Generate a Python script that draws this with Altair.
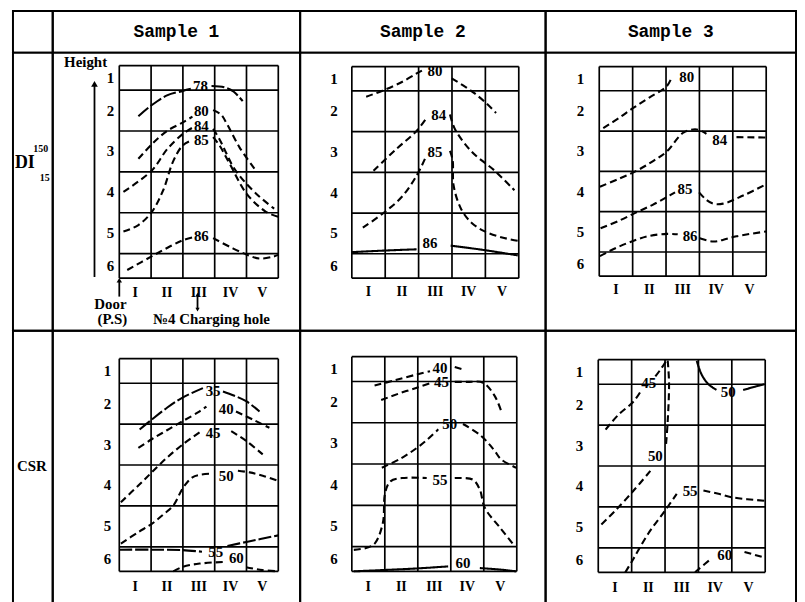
import altair as alt
import pandas as pd

# ---------------- layout of the table ----------------
COL_W = [40, 249, 247, 252]
ROW_H = [42, 280, 280]

SAMPLES = ["Sample 1", "Sample 2", "Sample 3"]
COLS = ["I", "II", "III", "IV", "V"]
ROWS = ["1", "2", "3", "4", "5", "6"]
ROW_BOUNDS = [0, 0.6, 1.6, 2.6, 3.6, 4.6, 5.2]
ROW_CENTERS = [0.3, 1.1, 2.1, 3.1, 4.1, 4.9]
NCOL = 5
YMAX = 5.2

# ---------------- contour data (x: column units, y: height units from top) -------------
# each curve: (label, style, label_x, label_y, [segment points...])
DI_S1 = [
    ("78", "long", 2.55, 0.50, [[(0.6, 1.24), (1.0, 0.98), (1.5, 0.73), (2.0, 0.62), (2.25, 0.57)],
                                [(2.9, 0.50), (3.3, 0.53), (3.6, 0.64), (3.88, 0.87)]]),
    ("80", "dash", 2.58, 1.12, [[(0.6, 2.28), (1.03, 1.92), (1.5, 1.60), (2.0, 1.39), (2.3, 1.25)],
                                [(2.95, 1.09), (3.2, 1.20), (3.4, 1.45), (3.78, 2.0), (4.25, 2.52)]]),
    ("84", "dash", 2.58, 1.48, [[(0.13, 3.09), (1.03, 2.56), (1.5, 2.05), (2.0, 1.67), (2.3, 1.52)],
                                [(2.95, 1.55), (3.15, 1.8), (3.4, 2.2), (3.6, 2.5), (3.95, 2.85), (4.4, 3.2), (4.87, 3.5)]]),
    ("85", "dash", 2.58, 1.83, [[(0.13, 4.06), (0.6, 3.9), (1.03, 3.57), (1.38, 3.05), (1.7, 2.33), (2.0, 1.95), (2.3, 1.82)],
                                [(2.95, 1.75), (3.15, 1.95), (3.47, 2.4), (4.0, 3.13), (4.6, 3.57), (5.0, 3.7)]]),
    ("86", "dash", 2.58, 4.18, [[(0.25, 5.0), (1.03, 4.66), (1.6, 4.42), (2.0, 4.27), (2.3, 4.2)],
                                [(2.95, 4.22), (3.57, 4.47), (4.0, 4.62), (4.4, 4.72), (4.8, 4.68), (5.0, 4.63)]]),
]
DI_S2 = [
    ("80", "dash", 2.49, 0.12, [[(0.43, 0.74), (0.9, 0.6), (1.5, 0.38), (1.94, 0.17), (2.1, 0.1)],
                                [(2.99, 0.29), (3.4, 0.5), (3.68, 0.66), (4.0, 0.88), (4.32, 1.14)]]),
    ("84", "dash", 2.6, 1.18, [[(0.65, 2.56), (1.3, 2.05), (1.94, 1.58), (2.24, 1.26)],
                               [(2.94, 1.18), (3.09, 1.54), (3.6, 2.1), (4.28, 2.56), (4.87, 3.04)]]),
    ("85", "dash", 2.49, 2.11, [[(0.33, 3.96), (0.93, 3.61), (1.5, 3.2), (1.94, 2.68), (2.19, 2.27)],
                                [(2.94, 2.07), (3.02, 2.3), (3.05, 2.93), (3.28, 3.51), (3.6, 3.85), (3.98, 4.05), (4.5, 4.2), (4.97, 4.28)]]),
    ("86", "solid", 2.34, 4.34, [[(0.0, 4.56), (1.0, 4.52), (1.94, 4.49)],
                                 [(2.96, 4.40), (3.98, 4.51), (4.97, 4.64)]]),
]
DI_S3 = [
    ("80", "dash", 2.62, 0.25, [[(0.12, 1.53), (0.6, 1.27), (1.03, 1.02), (1.5, 0.77), (2.02, 0.49), (2.17, 0.27)]]),
    ("84", "dash", 3.61, 1.83, [[(0.02, 2.98), (0.6, 2.78), (1.13, 2.58), (1.6, 2.35), (2.02, 2.11), (2.52, 1.64), (2.92, 1.56), (3.21, 1.67)],
                                [(4.11, 1.75), (5.0, 1.76)]]),
    ("85", "dash", 2.57, 3.04, [[(0.04, 4.01), (0.6, 3.82), (1.13, 3.61), (1.6, 3.43), (2.02, 3.24), (2.27, 3.12)],
                                [(2.99, 3.12), (3.2, 3.3), (3.41, 3.4), (3.71, 3.4), (4.31, 3.2), (5.0, 2.92)]]),
    ("86", "dash", 2.72, 4.21, [[(0.02, 4.7), (0.5, 4.5), (1.03, 4.32), (1.5, 4.2), (2.02, 4.15), (2.35, 4.16)],
                                [(3.01, 4.26), (3.41, 4.34), (3.7, 4.3), (4.11, 4.21), (5.0, 4.09)]]),
]
CSR_S1 = [
    ("35", "long", 2.95, 0.78, [[(0.64, 1.73), (1.02, 1.49), (1.5, 1.2), (1.99, 0.95), (2.63, 0.72)],
                                [(3.26, 0.8), (3.6, 0.9), (3.99, 1.04), (4.41, 1.29)]]),
    ("40", "dash", 3.36, 1.22, [[(0.6, 2.18), (1.02, 1.97), (1.5, 1.75), (1.99, 1.53), (2.5, 1.3), (2.74, 1.17)],
                                [(3.67, 1.29), (4.2, 1.49), (4.72, 1.69)]]),
    ("45", "dash", 2.95, 1.81, [[(0.05, 3.51), (0.6, 3.1), (1.02, 2.78), (1.5, 2.42), (1.99, 2.1), (2.58, 1.77)],
                                [(3.52, 1.77), (3.99, 2.01), (4.51, 2.34)]]),
    ("50", "dash", 3.36, 2.86, [[(0.05, 4.52), (0.6, 4.24), (1.02, 4.04), (1.4, 3.8), (1.7, 3.59), (2.01, 3.15), (2.3, 2.9), (2.53, 2.84), (2.9, 2.81)],
                                [(3.73, 2.74), (4.1, 2.78), (4.51, 2.86), (5.0, 2.99)]]),
    ("55", "long", 3.03, 4.72, [[(0.0, 4.67), (1.0, 4.67), (1.99, 4.68), (2.6, 4.72)],
                                [(3.4, 4.58), (4.0, 4.48), (5.0, 4.32)]]),
    ("60", "dash", 3.68, 4.88, [[(1.7, 5.2), (1.99, 5.09), (2.53, 5.01), (3.3, 4.97)],
                                [(3.99, 5.1), (4.5, 5.17), (5.0, 5.2)]]),
]
CSR_S2 = [
    ("40", "dash", 2.67, 0.27, [[(0.69, 0.7), (1.3, 0.57), (1.97, 0.43), (2.37, 0.35)],
                                [(3.12, 0.25), (3.37, 0.31)]]),
    ("45", "dash", 2.72, 0.62, [[(0.89, 1.05), (1.4, 0.9), (1.97, 0.75), (2.42, 0.63)],
                                [(3.12, 0.61), (3.5, 0.61), (3.98, 0.63), (4.33, 0.95), (4.53, 1.32)]]),
    ("50", "dash", 2.97, 1.64, [[(0.91, 2.69), (1.5, 2.46), (1.97, 2.21), (2.3, 2.0), (2.62, 1.76)],
                                [(3.37, 1.63), (3.92, 1.92), (4.3, 2.25), (4.53, 2.49), (4.98, 2.69)]]),
    ("55", "dash", 2.67, 2.98, [[(0.06, 4.68), (0.5, 4.62), (0.71, 4.51), (0.94, 4.03), (1.01, 3.3), (1.17, 3.02), (1.52, 2.94), (2.27, 2.94)],
                                [(3.12, 2.94), (3.67, 2.98), (3.88, 3.22), (4.03, 3.66), (4.5, 4.15), (4.93, 4.58)]]),
    ("60", "solid", 3.37, 5.0, [[(0.06, 5.2), (0.91, 5.17), (1.97, 5.13), (2.92, 5.08)],
                                [(3.88, 5.12), (4.53, 5.16), (4.98, 5.2)]]),
]
CSR_S3 = [
    ("45", "dash", 1.51, 0.57, [[(0.22, 1.71), (0.6, 1.35), (1.06, 1.02), (1.31, 0.72)],
                                [(1.71, 0.41), (1.9, 0.2), (2.05, 0.01)]]),
    ("50", "dash", 1.71, 2.35, [[(2.08, 0.02), (2.12, 0.57), (2.08, 1.5), (2.03, 2.07)],
                                [(1.56, 2.72), (1.06, 3.2), (0.5, 3.7), (0.07, 4.05)]]),
    ("50", "solid", 3.89, 0.78, [[(2.95, 0.03), (3.1, 0.37), (3.3, 0.6), (3.54, 0.74)],
                                 [(4.34, 0.74), (4.7, 0.66), (4.98, 0.6)]]),
    ("55", "dash", 2.75, 3.2, [[(0.81, 5.2), (1.06, 4.86), (1.5, 4.25), (2.0, 3.69), (2.35, 3.28)],
                               [(3.15, 3.2), (3.6, 3.28), (4.04, 3.37), (4.98, 3.45)]]),
    ("60", "dash", 3.79, 4.78, [[(2.9, 5.2), (3.04, 5.1), (3.39, 4.86)],
                                [(4.38, 4.7), (4.98, 4.84)]]),
]

# plot-area placement inside each cell (pixels): left, right, top, bottom, row-label offset, numeral offset
LAYOUT = {
    "DI_S1": dict(a=67, b=227, t=13, u=227, lab=-9, rom=15),
    "DI_S2": dict(a=52, b=220, t=14, u=227, lab=-18, rom=14),
    "DI_S3": dict(a=54, b=222, t=14, u=225, lab=-19, rom=14),
    "CSR_S1": dict(a=67, b=227, t=28, u=242, lab=-12, rom=16),
    "CSR_S2": dict(a=52, b=218, t=26, u=242, lab=-18, rom=16),
    "CSR_S3": dict(a=53, b=221, t=29, u=243, lab=-19, rom=16),
}

SERIF = "Liberation Serif"
DASHES = {"dash": [7, 4], "long": [13, 3], "solid": [1, 0]}


def make_panel(curves, lay, W, H, extras=None):
    a, b, t, u = lay["a"], lay["b"], lay["t"], lay["u"]
    ppx = (b - a) / NCOL
    ppy = (u - t) / YMAX
    xs = alt.Scale(domain=[-a / ppx, NCOL + (W - b) / ppx], nice=False, zero=False)
    ys = alt.Scale(domain=[-t / ppy, YMAX + (H - u) / ppy], nice=False, zero=False, reverse=True)

    vgrid = pd.DataFrame({"x": list(range(NCOL + 1)), "y": 0.0, "y2": YMAX})
    hgrid = pd.DataFrame({"y": ROW_BOUNDS, "x": 0.0, "x2": float(NCOL)})
    rows = []
    labs = []
    for ci, (val, style, lx, ly, segs) in enumerate(curves):
        for si, seg in enumerate(segs):
            for i, (x, y) in enumerate(seg):
                rows.append({"x": x, "y": y, "i": i, "seg": f"{ci}-{si}", "style": style})
        labs.append({"x": lx, "y": ly, "t": val})
    lines = pd.DataFrame(rows)
    labels = pd.DataFrame(labs)
    rowlab = pd.DataFrame({"x": lay["lab"] / ppx, "y": ROW_CENTERS, "t": ROWS})
    roman = pd.DataFrame({"x": [i + 0.5 for i in range(NCOL)], "y": YMAX + lay["rom"] / ppy, "t": COLS})

    X = lambda f="x": alt.X(f"{f}:Q", scale=xs, axis=None)
    Y = lambda f="y": alt.Y(f"{f}:Q", scale=ys, axis=None)

    layers = [
        alt.Chart(vgrid).mark_rule(color="black", strokeWidth=1.7).encode(x=X(), y=Y(), y2="y2:Q"),
        alt.Chart(hgrid).mark_rule(color="black", strokeWidth=1.7).encode(y=Y(), x=X(), x2="x2:Q"),
        alt.Chart(lines).mark_line(color="black", strokeWidth=2.1, interpolate="catmull-rom").encode(
            x=X(), y=Y(), detail="seg:N", order="i:Q",
            strokeDash=alt.StrokeDash("style:N", scale=alt.Scale(domain=list(DASHES), range=list(DASHES.values())), legend=None),
        ),
        alt.Chart(labels).mark_text(font=SERIF, fontWeight="bold", fontSize=15, color="black").encode(x=X(), y=Y(), text="t:N"),
        alt.Chart(rowlab).mark_text(font=SERIF, fontWeight="bold", fontSize=15, color="black").encode(x=X(), y=Y(), text="t:N"),
        alt.Chart(roman).mark_text(font=SERIF, fontWeight="bold", fontSize=14, color="black").encode(x=X(), y=Y(), text="t:N"),
    ]
    if extras:
        ex_text, ex_rules, ex_heads = extras
        layers.append(alt.Chart(ex_text).mark_text(font=SERIF, fontWeight="bold", color="black").encode(
            x=X(), y=Y(), text="t:N", size=alt.Size("fs:Q", scale=None, legend=None)))
        layers.append(alt.Chart(ex_rules).mark_rule(color="black", strokeWidth=1.8).encode(x=X(), y=Y(), y2="y2:Q"))
        layers.append(alt.Chart(ex_heads).mark_point(filled=True, color="black", opacity=1).encode(
            x=X(), y=Y(), shape=alt.Shape("s:N", scale=None, legend=None), size=alt.Size("sz:Q", scale=None, legend=None)))
    return alt.layer(*layers).properties(width=W, height=H)


# annotations of the first panel (Height axis arrow, door, charging hole)
NOTE_TEXT = ["Height", "Door", "(P.S)", "№4 Charging hole"]
NOTE_X = [-1.06, -0.28, -0.22, 2.9]
NOTE_Y = [-0.08, 5.84, 6.2, 6.2]
NOTE_FS = [15, 15, 15, 15]
ARROW_X = [-0.78, 0.0, 2.46]
ARROW_Y = [0.5, 5.28, 5.62]
ARROW_Y2 = [5.17, 5.65, 5.95]
HEAD_X = [-0.78, 0.0, 2.46, 2.46]
HEAD_Y = [0.45, 5.25, 5.6, 5.97]
HEAD_S = ["triangle-up", "triangle-up", "triangle-up", "triangle-down"]
HEAD_SZ = [45, 30, 18, 18]

ex_text = pd.DataFrame({"t": NOTE_TEXT, "x": NOTE_X, "y": NOTE_Y, "fs": NOTE_FS})
ex_rules = pd.DataFrame({"x": ARROW_X, "y": ARROW_Y, "y2": ARROW_Y2})
ex_heads = pd.DataFrame({"x": HEAD_X, "y": HEAD_Y, "s": HEAD_S, "sz": HEAD_SZ})


def text_cell(items, W, H):
    df = pd.DataFrame(items, columns=["t", "px", "py", "fs", "font"])
    layers = []
    for font in df["font"].unique():
        sub = df[df["font"] == font]
        layers.append(alt.Chart(sub).mark_text(font=font, fontWeight="bold", color="black").encode(
            x=alt.X("px:Q", scale=alt.Scale(domain=[0, W], nice=False, zero=False), axis=None),
            y=alt.Y("py:Q", scale=alt.Scale(domain=[0, H], nice=False, zero=False, reverse=True), axis=None),
            text="t:N", size=alt.Size("fs:Q", scale=None, legend=None)))
    return alt.layer(*layers).properties(width=W, height=H)


corner = text_cell([("", 20, 20, 12, SERIF)], COL_W[0], ROW_H[0])
headers = [text_cell([(s, COL_W[k + 1] / 2, 21, 18, "Liberation Mono")], COL_W[k + 1], ROW_H[0]) for k, s in enumerate(SAMPLES)]
di_lab = text_cell([("DI", 12, 111, 18, SERIF), ("150", 28, 97, 10, SERIF), ("15", 32, 126, 10, SERIF)], COL_W[0], ROW_H[1])
csr_lab = text_cell([("CSR", 19, 136, 15, SERIF)], COL_W[0], ROW_H[2])

cells = [
    corner, *headers,
    di_lab,
    make_panel(DI_S1, LAYOUT["DI_S1"], COL_W[1], ROW_H[1], (ex_text, ex_rules, ex_heads)),
    make_panel(DI_S2, LAYOUT["DI_S2"], COL_W[2], ROW_H[1]),
    make_panel(DI_S3, LAYOUT["DI_S3"], COL_W[3], ROW_H[1]),
    csr_lab,
    make_panel(CSR_S1, LAYOUT["CSR_S1"], COL_W[1], ROW_H[2]),
    make_panel(CSR_S2, LAYOUT["CSR_S2"], COL_W[2], ROW_H[2]),
    make_panel(CSR_S3, LAYOUT["CSR_S3"], COL_W[3], ROW_H[2]),
]

chart = alt.concat(*cells, columns=4, spacing=0, bounds="flush").properties(
    padding={"left": 4, "top": 0, "right": 0, "bottom": 0}, background="white"
).configure_view(stroke="black", strokeWidth=2)

chart.save("out.html", embed_options={"renderer": "svg", "actions": False})
